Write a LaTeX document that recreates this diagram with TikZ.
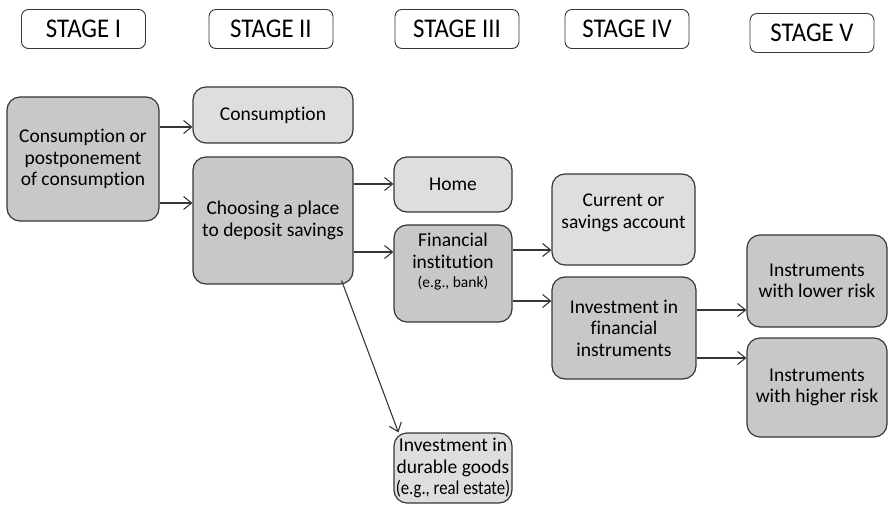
\documentclass[tikz,border=0pt]{standalone}
\usepackage{fontspec}
\setmainfont{Carlito}[RawFeature={-liga;-clig;-calt;-dlig;-rlig}]
\usetikzlibrary{arrows.meta}
\definecolor{darkbox}{RGB}{200,200,202}
\definecolor{lightbox}{RGB}{221,222,224}
\definecolor{edge}{RGB}{55,55,55}
\newcommand{\stagetxt}[1]{\scalebox{0.92}[1]{#1}}
\tikzset{
  stagebox/.style={draw=edge, line width=0.9pt, fill=white, rounded corners=7pt,
    minimum width=124pt, minimum height=39pt, inner sep=0pt,
    font=\fontsize{27}{29}\selectfont},
  boxbase/.style={draw=edge, line width=1.2pt, rounded corners=13pt, inner sep=0pt,
    align=center, font=\fontsize{19.5}{21.5}\selectfont},
  darknode/.style={boxbase, fill=darkbox},
  lightnode/.style={boxbase, fill=lightbox},
  plaintext/.style={align=center, inner sep=0pt, font=\fontsize{19.5}{21.5}\selectfont},
  arr/.style={draw=edge, line width=1.1pt, -{Straight Barb[length=8pt,width=13pt,line width=1.1pt]}}
}
\begin{document}
\begin{tikzpicture}[x=1pt,y=-1pt]
\useasboundingbox (0,0) rectangle (889,505);
% stage headers
\node[stagebox] (s1) at (83.5,29) {\stagetxt{STAGE I}};
\node[stagebox] (s2) at (271,29) {\stagetxt{STAGE II}};
\node[stagebox] (s3) at (457,29) {\stagetxt{STAGE III}};
\node[stagebox] (s4) at (627,29) {\stagetxt{STAGE IV}};
\node[stagebox] (s5) at (812,33) {\stagetxt{STAGE V}};
% boxes
\node[darknode, minimum width=152pt, minimum height=124pt] (cp) at (83,159)
  {Consumption or\\postponement\\of consumption};
\node[lightnode, minimum width=160pt, minimum height=56pt] (con) at (273,115) {Consumption};
\node[darknode, minimum width=160pt, minimum height=127pt] (cho) at (273,220.5)
  {Choosing a place\\to deposit savings};
\node[lightnode, minimum width=118pt, minimum height=55pt] (home) at (453,184.5) {Home};
\node[darknode, minimum width=118pt, minimum height=97pt] (fin) at (453,273.5) {};
\node[plaintext] (fintext) at (453,262)
  {Financial\\institution\\[-2pt]{\fontsize{15.5}{17}\selectfont (e.g., bank)}};
\node[lightnode, minimum width=143pt, minimum height=91pt] (cur) at (623.5,219.5) {};
\node[plaintext] (curtext) at (623.5,213) {Current or\\savings account};
\node[darknode, minimum width=144pt, minimum height=102pt] (inv) at (624,328)
  {Investment in\\financial\\instruments};
\node[darknode, minimum width=140pt, minimum height=92pt] (low) at (817,281)
  {Instruments\\with lower risk};
\node[darknode, minimum width=140pt, minimum height=99pt] (high) at (817,387.5)
  {Instruments\\with higher risk};
\node[lightnode, minimum width=118pt, minimum height=70pt] (dur) at (453,468) {};
\node[plaintext] (durtext) at (453,468)
  {Investment in\\durable goods\\{\scalebox{0.86}[1]{(e.g., real estate)}}};
% connector start points
\coordinate (a1) at ([yshift=32pt]cp.east);
\coordinate (a2) at ([yshift=-44pt]cp.east);
\coordinate (a3) at ([yshift=36.5pt]cho.east);
\coordinate (a4) at ([yshift=-31.5pt]cho.east);
\coordinate (a5) at ([xshift=-12pt,yshift=4pt]cho.south east);
\coordinate (a5e) at ([xshift=5pt]dur.north west);
\coordinate (a6) at ([yshift=23.5pt]fin.east);
\coordinate (a7) at ([yshift=-27.5pt]fin.east);
\coordinate (a8) at ([yshift=18pt]inv.east);
\coordinate (a9) at ([yshift=-30pt]inv.east);
% connectors
\draw[arr] (a1) -- (a1 -| con.west);
\draw[arr] (a2) -- (a2 -| cho.west);
\draw[arr] (a3) -- (a3 -| home.west);
\draw[arr] (a4) -- (a4 -| fin.west);
\draw[arr] (a5) -- (a5e);
\draw[arr] (a6) -- (a6 -| cur.west);
\draw[arr] (a7) -- (a7 -| inv.west);
\draw[arr] (a8) -- (a8 -| low.west);
\draw[arr] (a9) -- (a9 -| high.west);
\end{tikzpicture}
\end{document}
